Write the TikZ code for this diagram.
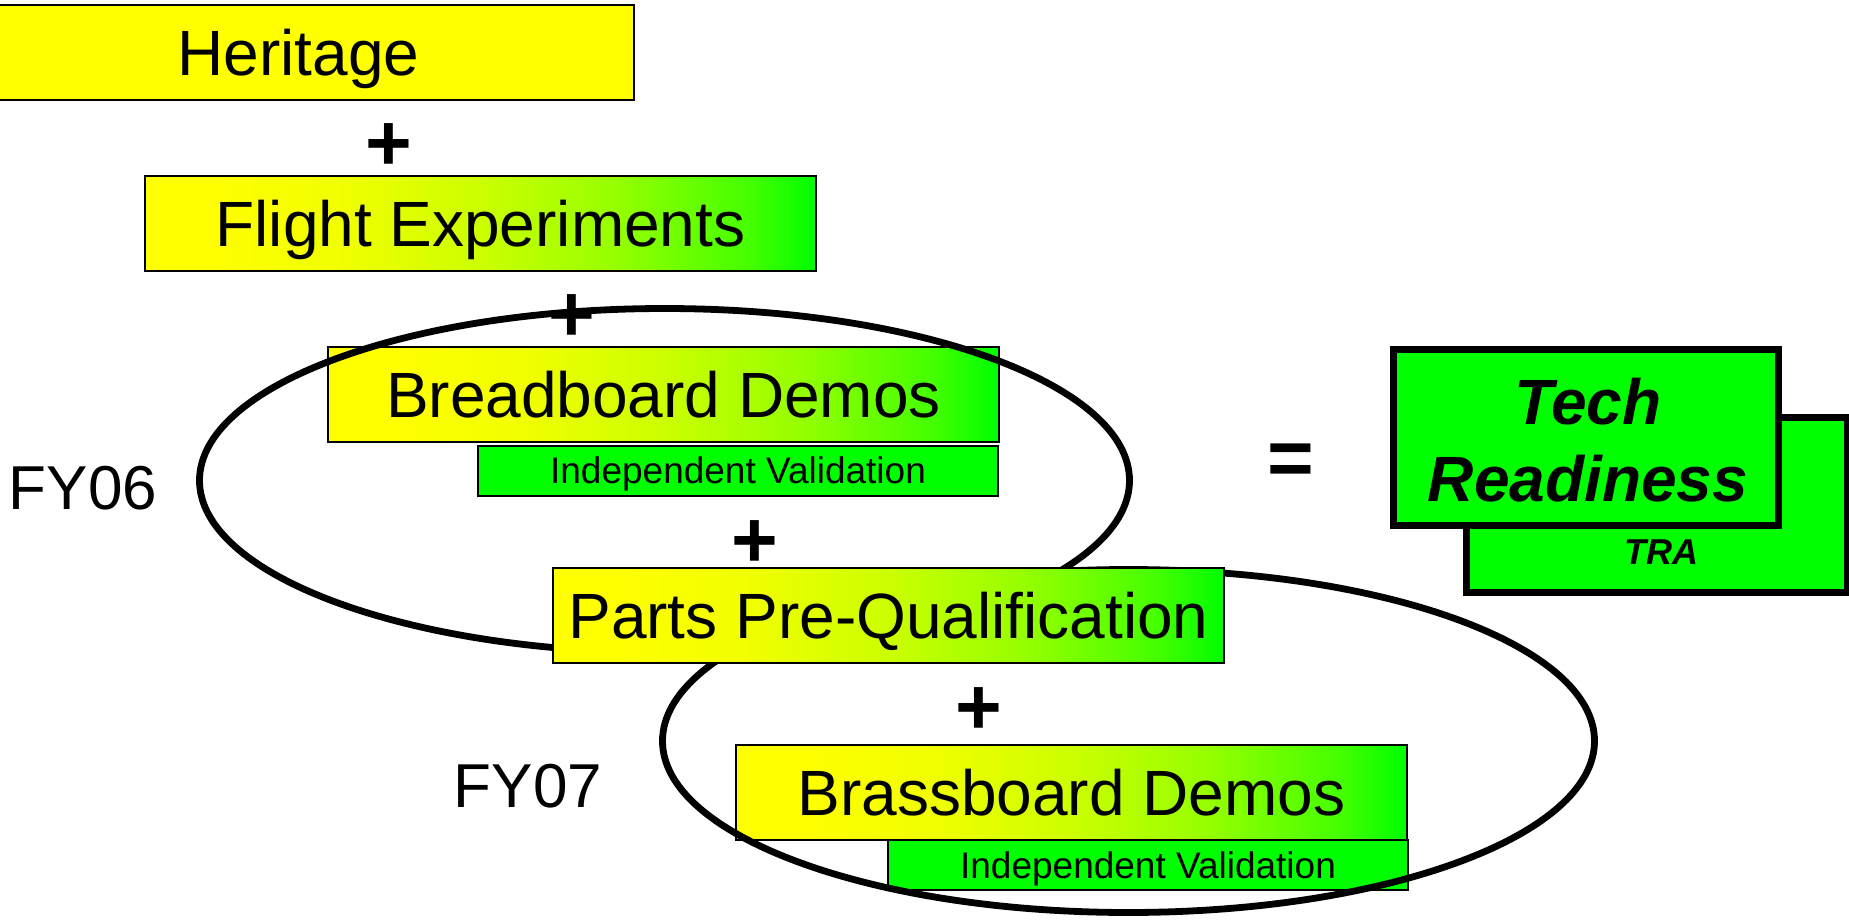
\documentclass[tikz,border=0pt]{standalone}
\usepackage{fontspec}
\setmainfont{Liberation Sans}
\usetikzlibrary{shapes.geometric}
\definecolor{hyellow}{RGB}{255,255,0}
\definecolor{hgreen}{RGB}{0,255,0}
% yellow-to-green ramp used for the stage boxes (box spans 25bp..75bp)
\pgfdeclarehorizontalshading{stagefade}{100bp}{rgb(0bp)=(1,1,0); rgb(30bp)=(1,1,0);
  rgb(40bp)=(0.94,1,0); rgb(50bp)=(0.8,1,0); rgb(60bp)=(0.59,1,0);
  rgb(70bp)=(0.27,1,0); rgb(75bp)=(0,1,0); rgb(100bp)=(0,1,0)}
\begin{document}
\begin{tikzpicture}[x=0.5pt,y=-0.5pt,
  stage/.style={draw=black, line width=1pt, minimum width=335.5pt, minimum height=47.5pt,
    inner sep=0pt, text height=23pt, text depth=0pt, font=\fontsize{32}{38}\selectfont},
  fade/.style={stage, shading=stagefade},
  check/.style={draw=black, line width=1pt, fill=hgreen, minimum width=260pt, minimum height=25pt,
    inner sep=0pt, text height=13pt, text depth=0pt, font=\fontsize{18.5}{22}\selectfont},
  op/.style={font=\bfseries\fontsize{40}{48}\selectfont, inner sep=0pt},
  year/.style={font=\fontsize{31}{37}\selectfont, inner sep=0pt, text height=22pt, text depth=0pt},
  loop/.style={draw=black, line width=3.4pt, ellipse, inner sep=0pt},
  tra/.style={draw=black, line width=3.5pt, fill=hgreen, inner sep=0pt}
]
\useasboundingbox (0,0) rectangle (1849,920);

% top of the stack
\node[stage, fill=hyellow] (heritage) at (298.5,52.5) {Heritage};
\node[op] (plusA) at (389,147) {+};
\node[fade] (flight) at (480.5,223.5) {Flight Experiments};
\node[op] (plusB) at (572,318) {+};
\node[fade] (breadboard) at (663.5,394.5) {Breadboard Demos};
\node[check] (ivA) at (738,470.5) {Independent Validation};

% second year stages
\node[fade] (brassboard) at (1071.5,792) {Brassboard Demos};
\node[check] (ivB) at (1148,865) {Independent Validation};

% fiscal year loops
\node[loop, minimum width=465pt, minimum height=172pt] (fy06loop) at (664.5,480.5) {};
\node[loop, minimum width=466pt, minimum height=171.5pt] (fy07loop) at (1128.5,741) {};

\node[op] (plusC) at (755,544) {+};
\node[fade] (parts) at (888.5,615) {Parts Pre-Qualification};
\node[op] (plusD) at (979,711) {+};

\node[year] (fy06) at (83,487) {FY06};
\node[year] (fy07) at (528,785) {FY07};

% result
\node[op] (equals) at (1291,465) {=};
\node[tra, minimum width=190.5pt, minimum height=87.5pt] (traback) at (1656.5,504.5) {};
\node[tra, minimum width=192.5pt, minimum height=88pt] (trfront) at (1585.5,437) {};
\node[font=\bfseries\itshape\fontsize{32}{38.5}\selectfont, align=center, inner sep=0pt]
  (trtext) at (1588,440) {Tech\\Readiness};
\node[font=\bfseries\itshape\fontsize{18}{22}\selectfont, inner sep=0pt, text height=13pt, text depth=0pt]
  (tralabel) at (1661,551) {TRA};
\end{tikzpicture}
\end{document}
